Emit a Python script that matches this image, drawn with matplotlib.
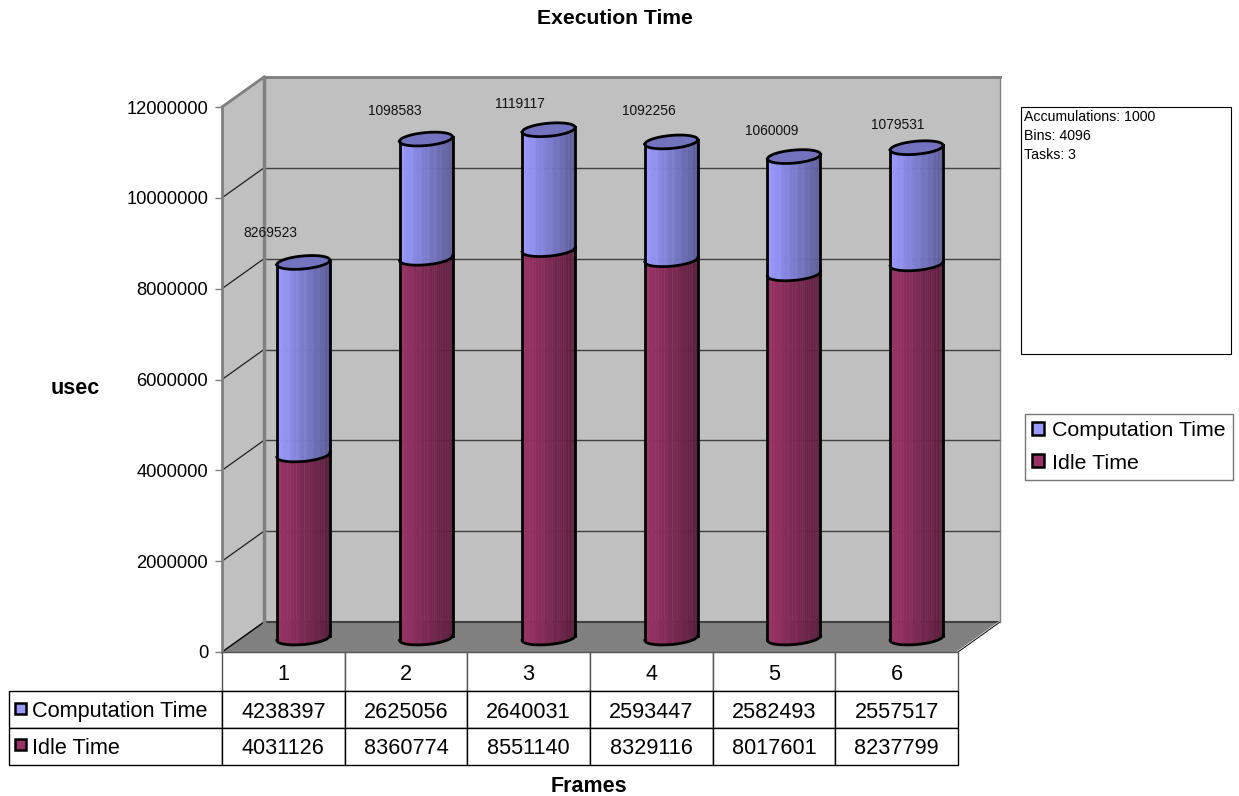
import numpy as np
import matplotlib
matplotlib.use('Agg')
import matplotlib.pyplot as plt
from matplotlib.patches import Patch, Rectangle

plt.rcParams['font.family'] = ['Liberation Sans', 'DejaVu Sans']

# series values, in usec
frames = ['1', '2', '3', '4', '5', '6']
computation = [4238397, 2625056, 2640031, 2593447, 2582493, 2557517]
idle = [4031126, 8360774, 8551140, 8329116, 8017601, 8237799]
bar_labels = ['8269523', '1098583', '1119117', '1092256', '1060009', '1079531']
notes = ['Accumulations: 1000', 'Bins: 4096', 'Tasks: 3']

W, H = 1239, 796
BLUE = '#9999FF'
RED = '#993366'

fig = plt.figure(figsize=(W / 100, H / 100), dpi=100)

# front plane of the 3D box
ax = fig.add_axes([222 / W, 1 - 652 / H, 736 / W, 545 / H])
ax.set_xlim(0, 6)
ax.set_ylim(0, 12000000)
ax.patch.set_visible(False)
for s in ax.spines.values():
    s.set_visible(False)

# depth of the box in data units
px_x = 6 / 736
px_y = 12000000 / 545
dx = 42 * px_x
dy = 30 * px_y
ymax = 12000000

# walls and floor
ax.fill([0, dx, dx, 0], [0, dy, ymax + dy, ymax], color='#C0C0C0', lw=0, clip_on=False, zorder=1)
ax.fill([dx, 6 + dx, 6 + dx, dx], [dy, dy, ymax + dy, ymax + dy], color='#C0C0C0', lw=0, clip_on=False, zorder=1)
ax.fill([0, 6, 6 + dx, dx], [0, 0, dy, dy], color='#808080', lw=0, clip_on=False, zorder=1)

# gridlines run along the side wall, then across the back wall
for v in range(2000000, 12000001, 2000000):
    ax.plot([0, dx], [v, v + dy], color='#202020', lw=0.9, clip_on=False, zorder=2)
    ax.plot([dx, 6 + dx], [v + dy, v + dy], color='#404040', lw=1.0, clip_on=False, zorder=2)
ax.plot([dx, 6 + dx], [dy, dy], color='#404040', lw=1.5, clip_on=False, zorder=2)
ax.plot([0, dx], [0, dy], color='black', lw=1, clip_on=False, zorder=2)
ax.plot([6, 6 + dx], [0, dy], color='white', lw=1.6, clip_on=False, zorder=2)
ax.plot([6, 6 + dx], [0, dy], color='black', lw=0.7, clip_on=False, zorder=2)

# wall borders
ax.plot([0, 0], [0, ymax], color='#808080', lw=2, clip_on=False, zorder=2)
ax.plot([0, dx], [ymax, ymax + dy], color='#808080', lw=2, clip_on=False, zorder=2)
ax.plot([dx, dx], [dy, ymax + dy], color='#808080', lw=2.5, clip_on=False, zorder=2)
ax.plot([dx, 6 + dx], [ymax + dy, ymax + dy], color='#808080', lw=2, clip_on=False, zorder=2)
ax.plot([6 + dx, 6 + dx], [dy, ymax + dy], color='#808080', lw=1, clip_on=False, zorder=2)

half_w = 26.5 * px_x
rx_h = 6.5 * px_y    # ellipse half height
tilt = 2.3 * px_y    # ellipses lean up towards the right


def shade(color, k):
    rgb = np.array(matplotlib.colors.to_rgb(color))
    return tuple(rgb * k)


def ellipse_y(cy, u):
    # u runs -1..1 across the cylinder, returns the lower and upper rim
    root = np.sqrt(np.clip(1 - u ** 2, 0, 1))
    return cy + tilt * u - rx_h * root, cy + tilt * u + rx_h * root


def cylinder(cx, y0, y1, color, z):
    # vertical bands, wide on the lit side and narrow on the dark side
    edges = 1 - (1 - np.linspace(0, 1, 27)) ** 1.7
    for i in range(len(edges) - 1):
        u = np.linspace(edges[i], edges[i + 1], 5) * 2 - 1
        low0, _ = ellipse_y(y0, u)
        low1, _ = ellipse_y(y1, u)
        k = 1.0 - 0.42 * edges[i] + (0.03 if i % 3 == 0 else 0)
        ax.fill_between(cx + u * half_w, low0, low1, color=shade(color, min(k, 1)),
                        lw=0.3, clip_on=False, zorder=z)
    u = np.linspace(-1, 1, 81)
    low0, _ = ellipse_y(y0, u)
    ax.plot(cx + u * half_w, low0, color='black', lw=2, clip_on=False, zorder=z + 1)
    ax.plot([cx - half_w, cx - half_w], [y0 - tilt, y1 - tilt], color='black', lw=2, clip_on=False, zorder=z + 1)
    ax.plot([cx + half_w, cx + half_w], [y0 + tilt, y1 + tilt], color='black', lw=2, clip_on=False, zorder=z + 1)


label_dx = [-33, -31, -29, -22, -22, -19]
label_dy = [29, 28, 26, 31, 26, 23]

for i in range(len(frames)):
    cx = i + 0.5 + dx / 2 - px_x
    base = dy / 2 - px_y
    top1 = idle[i] + base
    top2 = idle[i] + computation[i] + base
    cylinder(cx, base, top1, RED, 5)
    cylinder(cx, top1, top2, BLUE, 7)
    # lid of the stack
    u = np.linspace(-1, 1, 81)
    low, up = ellipse_y(top2, u)
    ax.fill_between(cx + u * half_w, low, up, color='#7272BF', lw=0, clip_on=False, zorder=9)
    ax.plot(cx + u * half_w, low, color='black', lw=2, clip_on=False, zorder=10)
    ax.plot(cx + u * half_w, up, color='black', lw=2, clip_on=False, zorder=10)
    ax.annotate(bar_labels[i], (cx, top2), xytext=(label_dx[i] * 0.72, label_dy[i] * 0.72),
                textcoords='offset points', ha='center', va='center', fontsize=9.9,
                color='#111111', annotation_clip=False, zorder=11)

# value axis
ax.set_yticks(range(0, 12000001, 2000000))
ax.set_yticklabels([str(v) for v in range(0, 12000001, 2000000)], va='center_baseline')
ax.tick_params(axis='y', length=5, width=1, color='#808080', labelsize=13.2, pad=5, labelcolor='black')
ax.set_xticks([])

# data table under the plot
cell_text = [[str(v) for v in computation], [str(v) for v in idle]]
tab = ax.table(cellText=cell_text, rowLabels=['Computation Time', 'Idle Time'], colLabels=frames,
               colWidths=[1 / 6] * 6, cellLoc='center', rowLoc='left',
               bbox=[0, -113 / 545, 1, 113 / 545], zorder=3)
tab.auto_set_font_size(False)
for (r, c), cell in tab.get_celld().items():
    cell.set_fontsize(15.6)
    cell.set_linewidth(1)
    cell.set_edgecolor('black')
    cell.set_height(39 if r == 0 else 37)
    cell.get_text().set_verticalalignment('center_baseline')
    if r == 0:
        cell.set_edgecolor('#555555')
    if c == -1:
        cell.PAD = 0.108


def swatch(x, y, color):
    # small key square, given in pixels from the top left of the figure
    fig.add_artist(Rectangle((x / W, 1 - (y + 11) / H), 11 / W, 11 / H, transform=fig.transFigure,
                             facecolor=color, edgecolor='black', lw=1.8, zorder=12))


swatch(15, 703, BLUE)
swatch(15, 739, RED)

# notes box
fig.add_artist(Rectangle((1021 / W, 1 - 354 / H), 210 / W, 247 / H, transform=fig.transFigure,
                         facecolor='white', edgecolor='black', lw=0.8))
for i, note in enumerate(notes):
    fig.text(1024 / W, 1 - (117 + 19 * i) / H, note, fontsize=10.2, va='center', ha='left')

# legend
handles = [Patch(facecolor=BLUE, edgecolor='black', lw=1.8), Patch(facecolor=RED, edgecolor='black', lw=1.8)]
leg = fig.legend(handles, ['Computation Time', 'Idle Time'], loc='upper left',
                 bbox_to_anchor=(1025 / W, 1 - 414 / H), bbox_transform=fig.transFigure,
                 fontsize=15.4, fancybox=False, edgecolor='#777777', framealpha=1, borderaxespad=0,
                 handlelength=0.56, handleheight=0.56, handletextpad=0.37, labelspacing=0.62,
                 borderpad=0.34)
leg.get_frame().set_linewidth(1)

# titles
fig.text(615 / W, 1 - 18 / H, 'Execution Time', fontsize=15.2, fontweight='bold', ha='center', va='center')
fig.text(75 / W, 1 - 388 / H, 'usec', fontsize=15.5, fontweight='bold', ha='center', va='center')
fig.text(589 / W, 1 - 786 / H, 'Frames', fontsize=15.5, fontweight='bold', ha='center', va='center')

fig.savefig('out.png', dpi=100)
